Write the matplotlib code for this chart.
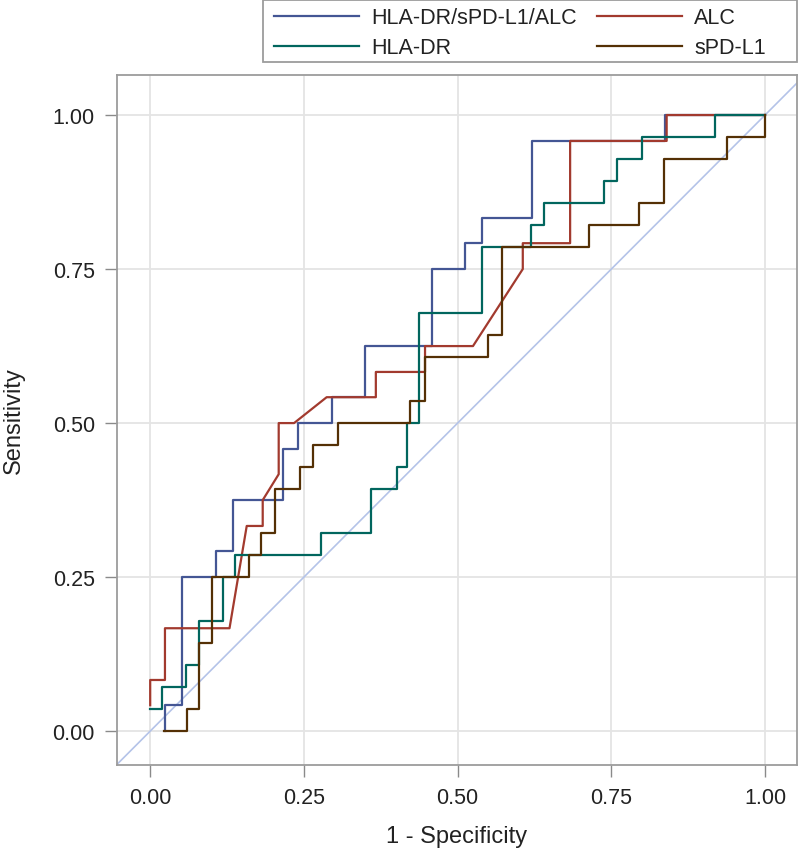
import matplotlib
matplotlib.use("Agg")
import matplotlib.pyplot as plt
from matplotlib.patches import Rectangle

# ROC curve data (1 - specificity, sensitivity)
combo_fpr = [0.024, 0.024, 0.052, 0.052, 0.107, 0.107, 0.134, 0.134, 0.216, 0.216, 0.241, 0.241,
             0.295, 0.295, 0.35, 0.35, 0.458, 0.458, 0.512, 0.512, 0.539, 0.539, 0.621, 0.621,
             0.837, 0.837, 1.0]
combo_tpr = [0.0, 0.042, 0.042, 0.25, 0.25, 0.292, 0.292, 0.375, 0.375, 0.458, 0.458, 0.5,
             0.5, 0.542, 0.542, 0.625, 0.625, 0.75, 0.75, 0.792, 0.792, 0.833, 0.833, 0.958,
             0.958, 1.0, 1.0]

alc_fpr = [0.0, 0.0, 0.024, 0.024, 0.129, 0.157, 0.183, 0.183, 0.209, 0.209, 0.234, 0.287,
           0.367, 0.367, 0.447, 0.447, 0.525, 0.606, 0.606, 0.683, 0.683, 0.84, 0.84, 1.0]
alc_tpr = [0.042, 0.083, 0.083, 0.167, 0.167, 0.333, 0.333, 0.375, 0.417, 0.5, 0.5, 0.542,
           0.542, 0.583, 0.583, 0.625, 0.625, 0.75, 0.792, 0.792, 0.958, 0.958, 1.0, 1.0]

hla_fpr = [0.0, 0.019, 0.019, 0.0585, 0.0585, 0.079, 0.079, 0.118, 0.118, 0.138, 0.138, 0.277,
           0.277, 0.359, 0.359, 0.401, 0.401, 0.418, 0.418, 0.438, 0.438, 0.539, 0.539, 0.619,
           0.619, 0.64, 0.64, 0.738, 0.738, 0.76, 0.76, 0.8, 0.8, 0.919, 0.919, 1.0]
hla_tpr = [0.036, 0.036, 0.071, 0.071, 0.107, 0.107, 0.179, 0.179, 0.25, 0.25, 0.286, 0.286,
           0.321, 0.321, 0.393, 0.393, 0.429, 0.429, 0.5, 0.5, 0.679, 0.679, 0.786, 0.786,
           0.821, 0.821, 0.857, 0.857, 0.893, 0.893, 0.929, 0.929, 0.964, 0.964, 1.0, 1.0]

spd_fpr = [0.022, 0.06, 0.06, 0.079, 0.079, 0.1, 0.1, 0.161, 0.161, 0.181, 0.181, 0.203, 0.203,
           0.243, 0.243, 0.265, 0.265, 0.305, 0.305, 0.423, 0.423, 0.447, 0.447, 0.55, 0.55,
           0.572, 0.572, 0.714, 0.714, 0.795, 0.795, 0.836, 0.836, 0.938, 0.938, 1.0, 1.0]
spd_tpr = [0.0, 0.0, 0.036, 0.036, 0.143, 0.143, 0.25, 0.25, 0.286, 0.286, 0.321, 0.321, 0.393,
           0.393, 0.429, 0.429, 0.464, 0.464, 0.5, 0.5, 0.536, 0.536, 0.607, 0.607, 0.643,
           0.643, 0.786, 0.786, 0.821, 0.821, 0.857, 0.857, 0.929, 0.929, 0.964, 0.964, 1.0]

labels = ["HLA-DR/sPD-L1/ALC", "ALC", "HLA-DR", "sPD-L1"]
ticks = [0.0, 0.25, 0.5, 0.75, 1.0]
tick_labels = ["0.00", "0.25", "0.50", "0.75", "1.00"]

plt.rcParams['font.family'] = ['Liberation Sans', 'DejaVu Sans']

W, H = 800, 853
fig = plt.figure(figsize=(W / 100, H / 100), dpi=100)
ax = fig.add_axes([117 / W, 1 - 766 / H, 680 / W, 690 / H])

c_blue = "#445694"
c_red = "#A23A2E"
c_teal = "#01665E"
c_brown = "#543005"
frame_c = "#9c9c9c"

ax.axline((0, 0), (1, 1), color="#b4c3e8", lw=1.2, zorder=1)
l1, = ax.plot(combo_fpr, combo_tpr, color=c_blue, lw=1.6, zorder=3)
l2, = ax.plot(alc_fpr, alc_tpr, color=c_red, lw=1.6, zorder=3)
l3, = ax.plot(hla_fpr, hla_tpr, color=c_teal, lw=1.6, zorder=3)
l4, = ax.plot(spd_fpr, spd_tpr, color=c_brown, lw=1.6, zorder=3)

ax.set_xlim(-0.054, 1.052)
ax.set_ylim(-0.055, 1.065)
ax.set_xticks(ticks)
ax.set_xticklabels(tick_labels)
ax.set_yticks(ticks)
ax.set_yticklabels(tick_labels)
ax.grid(True, color="#e4e4e4", lw=1.3, zorder=0)
ax.set_axisbelow(True)
for s in ax.spines.values():
    s.set_color(frame_c)
    s.set_linewidth(1.3)
ax.tick_params(axis='both', colors="#8a8a8a", labelcolor="#222222", labelsize=15.5,
               length=8.5, width=1.0, pad=7.5)

ax.set_xlabel("1 - Specificity", fontsize=17, labelpad=12, color="#222222")
ax.set_ylabel("Sensitivity", fontsize=17, labelpad=20, color="#222222")

# legend box outside the plot area, top right
fig.patches.append(Rectangle((263 / W, 1 - 63 / H), (797 - 263) / W, 62 / H,
                             transform=fig.transFigure, facecolor="white",
                             edgecolor=frame_c, lw=1.3, zorder=0))
leg = fig.legend([l1, l3, l2, l4], [labels[0], labels[2], labels[1], labels[3]],
                 ncol=2, loc="upper left", bbox_to_anchor=(270 / W, 1 - 4 / H),
                 fontsize=15.5, handlelength=3.95, columnspacing=0.95, handletextpad=0.55,
                 frameon=False, borderpad=0.2, labelspacing=0.42, borderaxespad=0.0)
for t in leg.get_texts():
    t.set_color("#222222")

fig.savefig("out.png", dpi=100)
